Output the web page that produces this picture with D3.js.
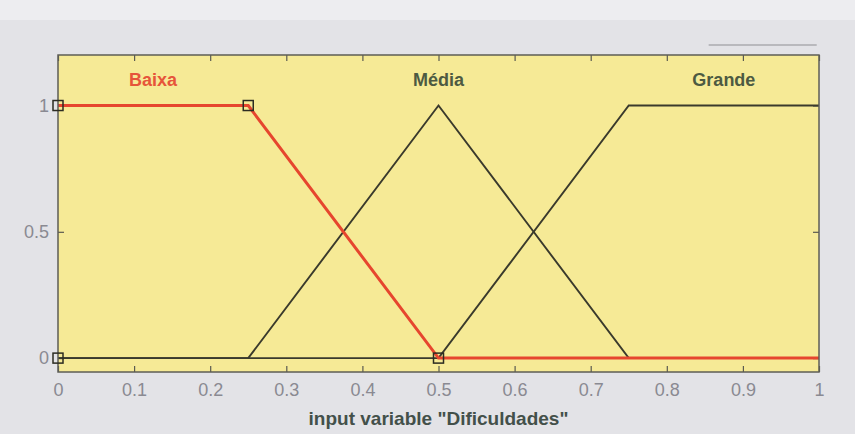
<!DOCTYPE html>
<html>
<head>
<meta charset="utf-8">
<script src="https://cdn.jsdelivr.net/npm/d3@7"></script>
<style>
  html, body { margin: 0; padding: 0; background: #e4e4e7; }
  svg { display: block; font-family: "Liberation Sans", Arial, sans-serif; }
</style>
</head>
<body>
<svg id="chart" width="855" height="434"></svg>
<script>
// Membership functions of the input variable "Dificuldades"
const mfNames = ["Baixa", "Média", "Grande"];
const mfXs = [
  [0, 0.25, 0.5, 1],           // Baixa (trapmf 0 0 0.25 0.5)
  [0, 0.25, 0.5, 0.75, 1],     // Média (trimf 0.25 0.5 0.75)
  [0, 0.5, 0.75, 1]            // Grande (trapmf 0.5 0.75 1 1)
];
const mfYs = [
  [1, 1, 0, 0],
  [0, 0, 1, 0, 0],
  [0, 0, 1, 1]
];
// parameter vertices of the highlighted function (Baixa)
const vertexXs = [0, 0, 0.25, 0.5];
const vertexYs = [0, 1, 1, 0];
const labelX = [0.125, 0.5, 0.875];
const xTicks = [0, 0.1, 0.2, 0.3, 0.4, 0.5, 0.6, 0.7, 0.8, 0.9, 1];
const yTicks = [0, 0.5, 1];
const xLabel = 'input variable "Dificuldades"';
const selected = 0;

const svg = d3.select("#chart");
const W = 855, H = 434;
const m = { left: 58, right: 36, top: 55, bottom: 62 };

// figure background
svg.append("rect").attr("width", W).attr("height", H).attr("fill", "#e3e3e7");
svg.append("rect").attr("x", 0).attr("y", 0).attr("width", W).attr("height", 20).attr("fill", "#ededf0");

const x = d3.scaleLinear().domain([0, 1]).range([m.left, W - m.right]);
const y = d3.scaleLinear().domain([-0.055, 1.2]).range([H - m.bottom, m.top]);

// small toolbar line above the axes
svg.append("line")
  .attr("x1", x(0.855)).attr("x2", x(0.997))
  .attr("y1", 45).attr("y2", 45)
  .attr("stroke", "#8f8f94").attr("stroke-width", 1.2);

// axes area
svg.append("rect")
  .attr("x", x(0)).attr("y", y(1.2))
  .attr("width", x(1) - x(0)).attr("height", y(-0.055) - y(1.2))
  .attr("fill", "#f6ea96");

// x axis (bottom, ticks inward) and mirrored ticks at top
const xAxis = svg.append("g")
  .attr("transform", `translate(0,${y(-0.055)})`)
  .call(d3.axisBottom(x).tickValues(xTicks).tickSize(-6).tickPadding(11)
    .tickFormat(d => d3.format("~g")(d)));
const xTop = svg.append("g")
  .attr("transform", `translate(0,${y(1.2)})`)
  .call(d3.axisTop(x).tickValues(xTicks).tickSize(-6).tickFormat(""));
const yAxis = svg.append("g")
  .attr("transform", `translate(${x(0)},0)`)
  .call(d3.axisLeft(y).tickValues(yTicks).tickSize(-6).tickPadding(9)
    .tickFormat(d => d3.format("~g")(d)));
const yRight = svg.append("g")
  .attr("transform", `translate(${x(1)},0)`)
  .call(d3.axisRight(y).tickValues(yTicks).tickSize(-6).tickFormat(""));

[xAxis, xTop, yAxis, yRight].forEach(g => {
  g.select(".domain").remove();
  g.selectAll(".tick line").attr("stroke", "#5a5a50").attr("stroke-width", 1.2);
  g.selectAll(".tick text").attr("fill", "#8a8a92").attr("font-size", 18)
    .attr("font-family", "Liberation Sans, Arial, sans-serif");
});

const line = d3.line().x(d => x(d[0])).y(d => y(d[1]));

// draw non-selected functions first, highlighted one on top
const order = [1, 2, 0];
order.forEach(i => {
  const pts = mfXs[i].map((v, k) => [v, mfYs[i][k]]);
  svg.append("path")
    .datum(pts)
    .attr("d", line)
    .attr("fill", "none")
    .attr("stroke", i === selected ? "#e6462e" : "#3a3a2c")
    .attr("stroke-width", i === selected ? 3 : 1.9)
    .attr("stroke-linejoin", "miter");
});

// box
svg.append("rect")
  .attr("x", x(0)).attr("y", y(1.2))
  .attr("width", x(1) - x(0)).attr("height", y(-0.055) - y(1.2))
  .attr("fill", "none").attr("stroke", "#5e5e56").attr("stroke-width", 1.5);

// vertex markers of the highlighted function
svg.selectAll("rect.vertex")
  .data(vertexXs.map((v, k) => [v, vertexYs[k]]))
  .enter().append("rect")
  .attr("class", "vertex")
  .attr("x", d => x(d[0]) - 5).attr("y", d => y(d[1]) - 5)
  .attr("width", 10).attr("height", 10)
  .attr("fill", "none").attr("stroke", "#2c2c22").attr("stroke-width", 1.5);

// function names
svg.selectAll("text.mf")
  .data(mfNames)
  .enter().append("text")
  .attr("class", "mf")
  .attr("x", (d, i) => x(labelX[i]))
  .attr("y", 86)
  .attr("text-anchor", "middle")
  .attr("font-size", 18)
  .attr("font-weight", "bold")
  .attr("fill", (d, i) => i === selected ? "#e6553a" : "#4d5a42")
  .text(d => d);

// x axis title
svg.append("text")
  .attr("x", x(0.5)).attr("y", 425)
  .attr("text-anchor", "middle")
  .attr("font-size", 19)
  .attr("font-weight", "bold")
  .attr("fill", "#43504a")
  .text(xLabel);
</script>
</body>
</html>
